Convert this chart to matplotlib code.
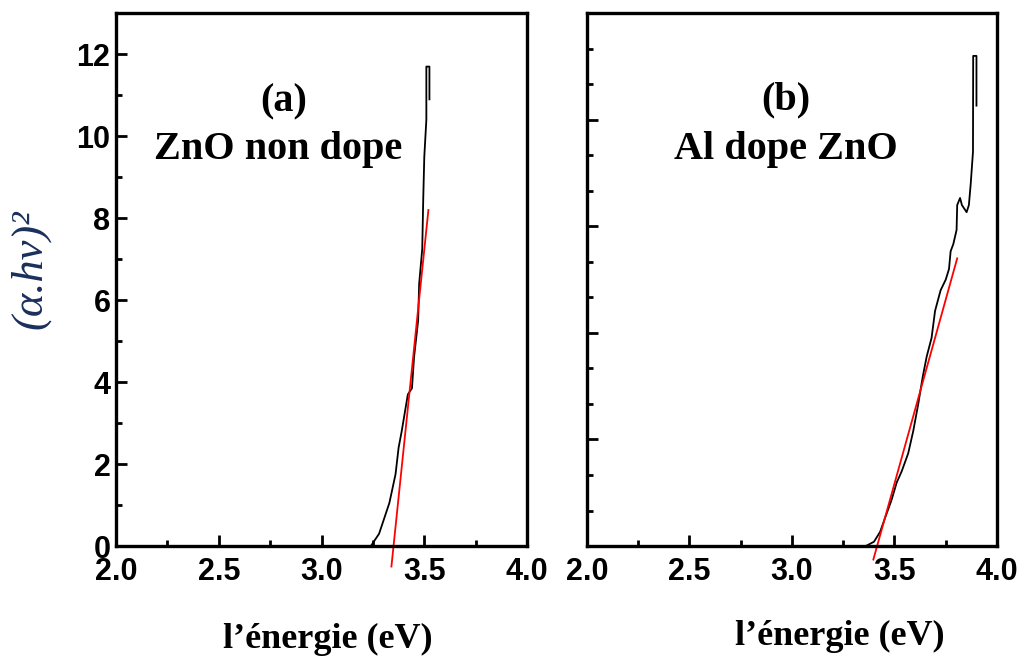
import matplotlib
matplotlib.use("Agg")
import matplotlib.pyplot as plt
from matplotlib.ticker import MultipleLocator

# (a) ZnO non dope
energy_a = [3.19, 3.24, 3.28, 3.33, 3.36, 3.375, 3.39, 3.42, 3.44, 3.45,
            3.47, 3.475, 3.49, 3.495, 3.50, 3.51, 3.51, 3.51, 3.515, 3.525, 3.525]
signal_a = [0.0, 0.0, 0.3, 1.05, 1.75, 2.4, 2.8, 3.7, 3.85, 4.6,
            5.5, 6.4, 7.25, 8.5, 9.5, 10.4, 11.3, 11.7, 11.7, 11.7, 10.9]
fit_a_energy = [3.34, 3.52]
fit_a_signal = [-0.5, 8.2]

# (b) Al dope ZnO
energy_b = [3.31, 3.36, 3.40, 3.43, 3.454, 3.486, 3.511, 3.535, 3.567, 3.592,
            3.616, 3.638, 3.657, 3.681, 3.698, 3.725, 3.750, 3.766, 3.774,
            3.787, 3.803, 3.806, 3.820, 3.829, 3.852, 3.863, 3.872, 3.883,
            3.884, 3.892, 3.900, 3.900]
signal_b = [0.0, 0.0, 0.12, 0.4, 0.79, 1.3, 1.79, 2.1, 2.61, 3.25,
            4.0, 4.77, 5.33, 5.86, 6.62, 7.2, 7.5, 7.8, 8.3,
            8.5, 8.9, 9.6, 9.8, 9.6, 9.4, 9.6, 10.2, 11.1,
            13.8, 13.8, 13.8, 12.4]
fit_b_energy = [3.397, 3.806]
fit_b_signal = [-0.38, 8.1]

x_ticks = [2.0, 2.5, 3.0, 3.5, 4.0]
x_ticklabels = ["2.0", "2.5", "3.0", "3.5", "4.0"]

fig = plt.figure(figsize=(10.24, 6.65), dpi=100)
ax_a = fig.add_axes([0.1133, 0.1789, 0.4014, 0.8011])
ax_b = fig.add_axes([0.5732, 0.1789, 0.4004, 0.8011])

tick_font = dict(family="Liberation Sans", weight="bold", size=22)
label_font = dict(family="Liberation Serif", weight="bold", size=26)
title_font = dict(family="Liberation Serif", weight="bold", size=29)

for ax in (ax_a, ax_b):
    for s in ax.spines.values():
        s.set_linewidth(2.4)
    ax.set_xlim(2.0, 4.0)
    ax.set_xticks(x_ticks)
    ax.xaxis.set_minor_locator(MultipleLocator(0.25))
    ax.tick_params(axis="both", which="major", direction="in", length=8, width=2,
                   top=False, right=False, pad=4)
    ax.tick_params(axis="x", which="major", pad=8)
    ax.tick_params(axis="both", which="minor", direction="in", length=4, width=2,
                   top=False, right=False)
    ax.set_xticklabels(x_ticklabels, **tick_font)
    ax.set_xlabel("l’énergie (eV)", **label_font)

ax_a.xaxis.set_label_coords(0.516, -0.145)
ax_b.xaxis.set_label_coords(0.617, -0.138)

# left panel
ax_a.plot(energy_a, signal_a, color="black", lw=1.3)
ax_a.plot(fit_a_energy, fit_a_signal, color="red", lw=1.3, clip_on=False)
ax_a.set_ylim(0, 13)
ax_a.yaxis.set_major_locator(MultipleLocator(2))
ax_a.yaxis.set_minor_locator(MultipleLocator(1))
ax_a.set_yticks(range(0, 13, 2))
ax_a.set_yticklabels([str(v) for v in range(0, 13, 2)], **tick_font)
ax_a.set_ylabel("(α.hν)²", family="Liberation Serif", style="italic", size=32,
                color="#1a2f5c")
ax_a.yaxis.set_label_coords(-0.16, 0.52)
ax_a.text(0.409, 0.833, "(a)", transform=ax_a.transAxes, ha="center", va="center", **title_font)
ax_a.text(0.394, 0.744, "ZnO non dope", transform=ax_a.transAxes, ha="center", va="center", **title_font)

# right panel
ax_b.plot(energy_b, signal_b, color="black", lw=1.3)
ax_b.plot(fit_b_energy, fit_b_signal, color="red", lw=1.3, clip_on=False)
ax_b.set_ylim(0, 15)
ax_b.yaxis.set_major_locator(MultipleLocator(3))
ax_b.yaxis.set_minor_locator(MultipleLocator(1))
ax_b.set_yticklabels([])
ax_b.text(0.485, 0.838, "(b)", transform=ax_b.transAxes, ha="center", va="center", **title_font)
ax_b.text(0.485, 0.744, "Al dope ZnO", transform=ax_b.transAxes, ha="center", va="center", **title_font)

fig.savefig("out.png", dpi=100)
